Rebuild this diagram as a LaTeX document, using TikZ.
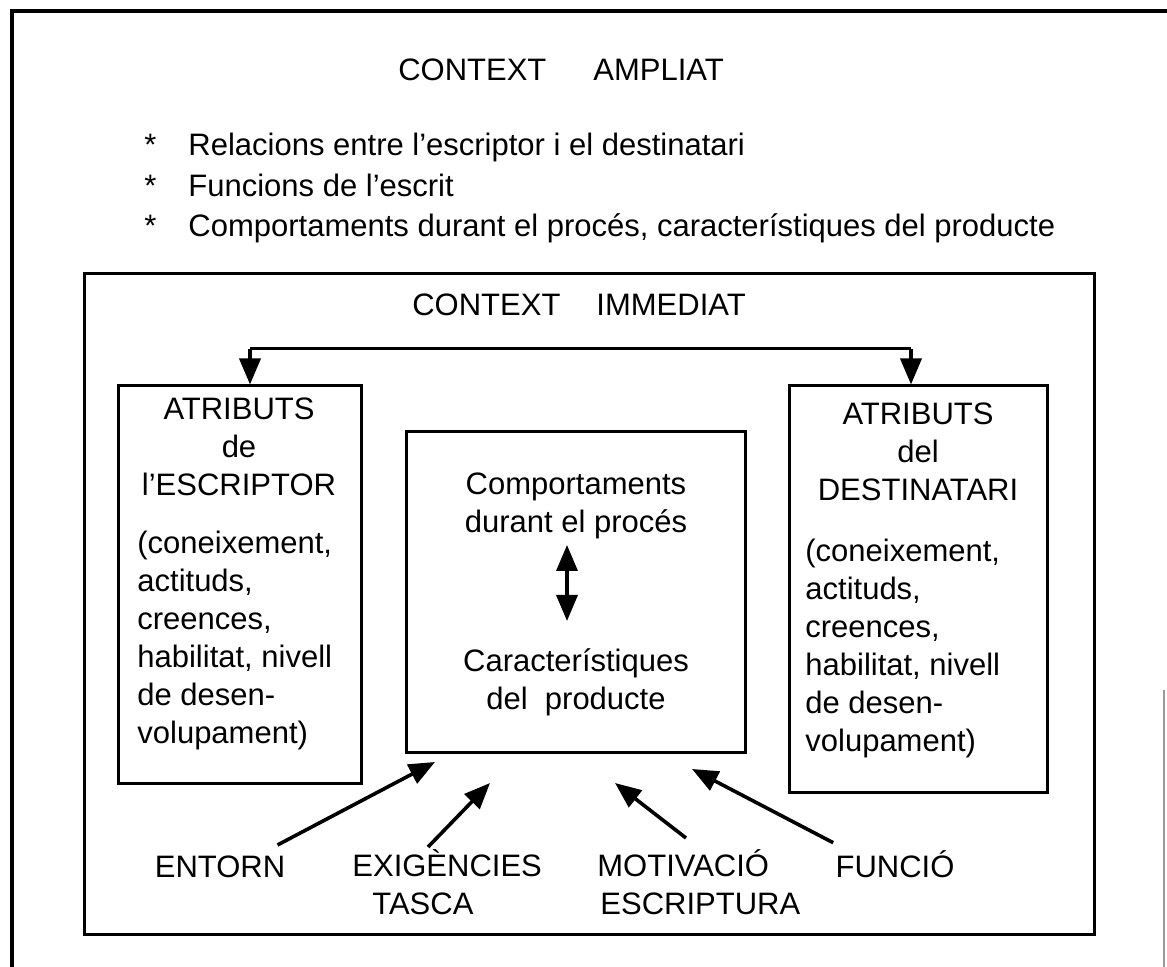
\documentclass[tikz,border=0pt]{standalone}
\usepackage{fontspec}
\setmainfont{Liberation Sans}
\usetikzlibrary{arrows.meta,positioning,fit}

\begin{document}
\begin{tikzpicture}[x=0.5pt,y=-0.5pt,
    txt/.style={font=\fontsize{15.5}{19}\selectfont, inner sep=0pt},
    boxed/.style={draw, line width=1.5pt, inner sep=0pt, fit=#1},
    arr/.style={line width=1.8pt, -{Triangle[length=13pt,width=10.5pt]}},
    dbl/.style={line width=1.8pt, {Triangle[length=13pt,width=10.5pt]}-{Triangle[length=13pt,width=10.5pt]}}]
    \useasboundingbox (0,0) rectangle (1167,967);

    % Context ampliat (outer frame)
    \draw[line width=1.6pt] (12,967) -- (12,11) -- (1167,11);
    \draw[black!40, line width=1pt] (1164,690) -- (1164,967);
    \node[txt, anchor=base] (ampliat) at (561,81) {CONTEXT\hspace{23.5pt}AMPLIAT};
    \node[txt, anchor=base west] (rel) at (144,156) {*\hspace{16pt}Relacions entre l’escriptor i el destinatari};
    \node[txt, anchor=base west] (fun) at (144,197) {*\hspace{16pt}Funcions de l’escrit};
    \node[txt, anchor=base west] (com) at (144,237) {*\hspace{16pt}Comportaments durant el procés, característiques del producte};

    % Context immediat (inner frame)
    \path (84,274) coordinate (ia) (1094,934) coordinate (ib);
    \node[boxed={(ia)(ib)}] (immediat) {};
    \node[txt, anchor=base] (immtxt) at (579,316) {CONTEXT\hspace{18pt}IMMEDIAT};

    % Boxes
    \path (118,386) coordinate (ea) (361,783) coordinate (eb);
    \node[boxed={(ea)(eb)}] (escriptor) {};
    \path (789,386) coordinate (da) (1047,792) coordinate (db);
    \node[boxed={(da)(db)}] (destinatari) {};
    \path (406,432) coordinate (pa) (745,752) coordinate (pb);
    \node[boxed={(pa)(pb)}] (producte) {};

    \node[txt, anchor=north, align=center] (escT) at (239,397) {ATRIBUTS\\de\\l’ESCRIPTOR};
    \node[txt, anchor=north west, align=left] (escB) at (137,531) {(coneixement,\\actituds,\\creences,\\habilitat, nivell\\de desen-\\volupament)};
    \node[txt, anchor=north, align=center] (desT) at (918,402) {ATRIBUTS\\del\\DESTINATARI};
    \node[txt, anchor=north west, align=left] (desB) at (805,539) {(coneixement,\\actituds,\\creences,\\habilitat, nivell\\de desen-\\volupament)};
    \node[txt, anchor=north, align=center] (comport) at (576,472) {Comportaments\\durant el procés};
    \node[txt, anchor=north, align=center] (caract) at (576,648) {Característiques\\del\ \ producte};

    % Arrows to the attribute boxes
    \coordinate (ls) at (250,349);
    \coordinate (rs) at (911,349);
    \draw[line width=1.5pt] (ls) -- (rs);
    \draw[arr] (ls) -- (ls |- escriptor.north);
    \draw[arr] (rs) -- (rs |- destinatari.north);

    \coordinate (up) at (567,545);
    \coordinate (dn) at (567,621);
    \draw[dbl] (up) -- (dn);

    % Factors
    \node[txt, anchor=base] (entorn) at (220,877) {ENTORN};
    \node[txt, anchor=north west, align=left] (tasca) at (352,849) {EXIGÈNCIES\\\hspace*{10pt}TASCA};
    \node[txt, anchor=north west, align=left] (motiv) at (597,849) {MOTIVACIÓ\\\hspace*{1.5pt}ESCRIPTURA};
    \node[txt, anchor=base] (funcio) at (895,877) {FUNCIÓ};

    \coordinate (t1) at (435,762);
    \coordinate (t2) at (490,783);
    \coordinate (t3) at (615,783);
    \coordinate (t4) at (692,769);
    \draw[arr] ([xshift=-4pt,yshift=5pt]entorn.north east) -- (t1);
    \draw[arr] ([xshift=38pt,yshift=1pt]tasca.north west) -- (t2);
    \draw[arr] ([xshift=44.5pt,yshift=5.5pt]motiv.north west) -- (t3);
    \draw[arr] ([xshift=-1pt,yshift=3.5pt]funcio.north west) -- (t4);
\end{tikzpicture}
\end{document}
